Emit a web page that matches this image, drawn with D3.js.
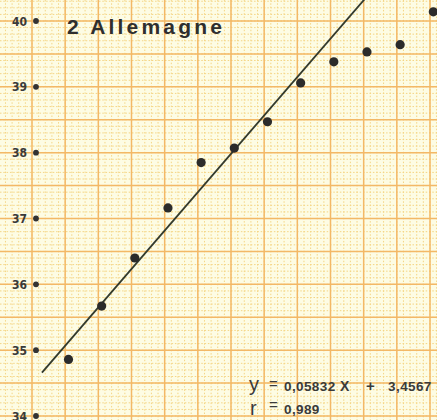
<!DOCTYPE html>
<html>
<head>
<meta charset="utf-8">
<script src="https://cdn.jsdelivr.net/npm/d3@7"></script>
<style>
  body { margin: 0; background: #fdfce6; }
  svg { display: block; }
</style>
</head>
<body>
<script>
const config = {
  width: 437,
  height: 420
};

// Data (X in the units of the fitted equation)
const xValues = [543, 553, 563, 573, 583, 593, 603, 613, 623, 633, 643, 653];
const yValues = [34.86, 35.67, 36.40, 37.16, 37.85, 38.07, 38.47, 39.06, 39.38, 39.53, 39.64, 40.14];
const yTicks = [34, 35, 36, 37, 38, 39, 40];
const fit = { slope: 0.05832, intercept: 3.4567 };
const fitRange = [535, 645];

const x = d3.scaleLinear().domain([532, 652]).range([32, 430]);
const y = d3.scaleLinear().domain([34, 40]).range([416, 21]);

const svg = d3
  .select("body")
  .append("svg")
  .attr("width", config.width)
  .attr("height", config.height);

svg.append("rect")
  .attr("width", config.width)
  .attr("height", config.height)
  .attr("fill", "#fdfce4");

// graph paper: dotted minor grid
const grid = svg.append("g");
grid.selectAll(".minor-x")
  .data(d3.range(522, 670, 2))
  .enter()
  .append("line")
  .attr("x1", d => x(d)).attr("x2", d => x(d))
  .attr("y1", 0).attr("y2", config.height)
  .attr("stroke", "#f4d585")
  .attr("stroke-width", 1)
  .attr("stroke-dasharray", "1.5,1.8");
grid.selectAll(".minor-y")
  .data(d3.range(33.6, 40.4, 0.1))
  .enter()
  .append("line")
  .attr("y1", d => y(d)).attr("y2", d => y(d))
  .attr("x1", 0).attr("x2", config.width)
  .attr("stroke", "#f4d585")
  .attr("stroke-width", 1)
  .attr("stroke-dasharray", "1.5,1.8");

// major lines
grid.selectAll(".major-x")
  .data(d3.range(522, 670, 10))
  .enter()
  .append("line")
  .attr("x1", d => x(d)).attr("x2", d => x(d))
  .attr("y1", 0).attr("y2", config.height)
  .attr("stroke", "#f3b866")
  .attr("stroke-width", 1.5);
grid.selectAll(".major-y")
  .data(d3.range(33.5, 40.6, 0.5))
  .enter()
  .append("line")
  .attr("y1", d => y(d)).attr("y2", d => y(d))
  .attr("x1", 0).attr("x2", config.width)
  .attr("stroke", "#f3b866")
  .attr("stroke-width", 1.5);

// y ticks: dots + labels
svg.selectAll(".tick-dot")
  .data(yTicks)
  .enter()
  .append("circle")
  .attr("cx", 36)
  .attr("cy", d => y(d))
  .attr("r", 2.9)
  .attr("fill", "#333");
svg.selectAll(".tick-label")
  .data(yTicks)
  .enter()
  .append("text")
  .text(d => d)
  .attr("x", 27)
  .attr("y", d => y(d) + 4.5)
  .attr("text-anchor", "end")
  .attr("font-family", "'DejaVu Sans Condensed', 'Liberation Sans Narrow', sans-serif")
  .attr("font-weight", "bold")
  .attr("font-size", "12px")
  .attr("fill", "#3a3a3a");

// Title
svg.append("text")
  .text("2  Allemagne")
  .attr("x", 67)
  .attr("y", 34)
  .attr("font-family", "'Liberation Sans', Arial, sans-serif")
  .attr("font-weight", "bold")
  .attr("font-size", "21px")
  .attr("letter-spacing", "3.2px")
  .attr("fill", "#2e2e2e");

// regression line
const line = d3.line()
  .x(d => x(d))
  .y(d => y(fit.slope * d + fit.intercept));
svg.append("path")
  .datum(fitRange)
  .attr("d", line)
  .attr("fill", "none")
  .attr("stroke", "#333a2c")
  .attr("stroke-width", 1.8);

// points
svg.append("g")
  .selectAll("circle")
  .data(xValues.map((d, i) => [d, yValues[i]]))
  .enter()
  .append("circle")
  .attr("cx", d => x(d[0]))
  .attr("cy", d => y(d[1]))
  .attr("r", 4.6)
  .attr("fill", "#2b2b2b");

// equation
const eq = svg.append("g")
  .attr("font-family", "'Liberation Sans', Arial, sans-serif")
  .attr("fill", "#3a3a3a");
const part = (t, px, py, size, bold) =>
  eq.append("text").text(t)
    .attr("x", px).attr("y", py)
    .attr("font-size", size + "px")
    .attr("font-weight", bold ? "bold" : "normal");

part("y", 249, 391, 20, false);
part("=", 269, 389, 15, false);
part("0,05832", 284, 391, 13.5, true).attr("letter-spacing", "0.4px");
part("X", 340, 391, 14, true);
part("+", 366, 391, 15, true);
part("3", 388, 391, 13.5, true);
part(",4567", 396, 391, 13.5, true).attr("letter-spacing", "0.4px");
part("r", 250, 415, 20, false);
part("=", 269, 410, 15, false);
part("0,989", 284, 414, 13.5, true).attr("letter-spacing", "0.4px");
</script>
</body>
</html>
